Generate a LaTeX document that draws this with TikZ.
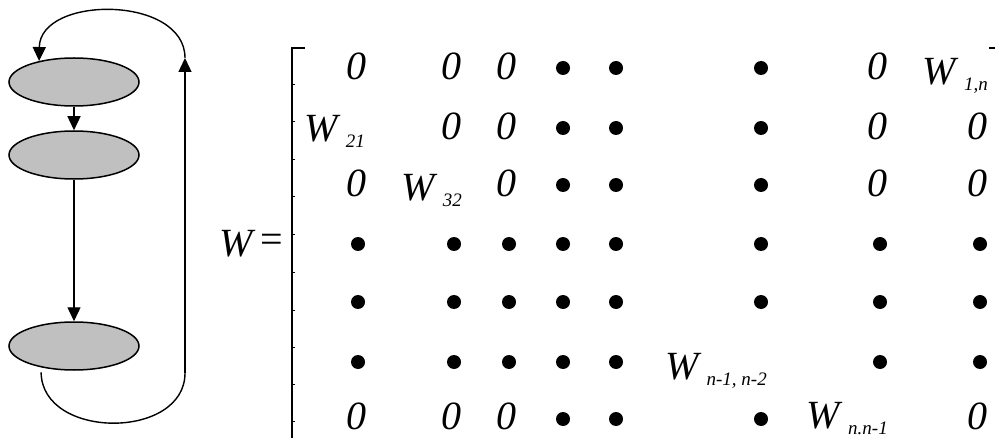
\documentclass[tikz,border=0pt]{standalone}
\usepackage{fontspec}
\setmainfont{Liberation Serif}
\usetikzlibrary{arrows.meta,shapes.geometric}
\newcommand{\mainsz}{\fontsize{40}{40}\selectfont}
\newcommand{\subsz}{\fontsize{19}{19}\selectfont}
\newcommand{\Wsb}[1]{{\mainsz\itshape W}\hspace{8pt}\raisebox{-6pt}{\subsz\itshape #1}}
\begin{document}
\begin{tikzpicture}[x=1pt,y=-1pt,
  ell/.style={ellipse,draw,line width=1.5pt,fill={rgb,255:red,192;green,192;blue,192},minimum width=130pt,minimum height=48pt,inner sep=0pt},
  arr/.style={line width=1.4pt,-{Triangle[length=14pt,width=13pt]}},
  conn/.style={line width=1.4pt},
  ent/.style={anchor=base east,inner sep=0pt,font=\mainsz\itshape},
  dotn/.style={circle,fill=black,inner sep=0pt,minimum size=14pt},
  brk/.style={line width=2pt}]
\fill[white] (0,0) rectangle (995,438);
\useasboundingbox (0,0) rectangle (995,438);
% graph
\node[ell] (e1) at (74,82) {};
\node[ell] (e2) at (74,155) {};
\node[ell] (e3) at (74,346) {};
\draw[arr] (e1.south) -- (e2.north);
\draw[arr] (e2.south) -- (e3.north);
\coordinate (tr) at (185,58);
\coordinate (br) at (185,373);
\draw[arr] (tr) .. controls (185,-5) and (40,-5) .. (e1.149);
\draw[arr] (br) -- (tr);
\draw[conn, shorten <=5pt] (e3.213) .. controls (42,440) and (185,440) .. (br);
% W =
\node[ent,anchor=base west] (lw) at (219,257) {W};
\node[inner sep=0pt,font=\mainsz] (eq) at (272,243) {=};
% brackets
\draw[brk] (305,48) -- (292,48) -- (292,438);
\foreach \yy in {85,122,160,197,235,272,310,347,384,421}
  \draw[line width=1pt] (292,\yy) -- (294.5,\yy);
\draw[brk] (989,48) -- (995,48);
% row 1
\node[ent] (m11) at (367,80) {0};
\node[ent] (m12) at (462,80) {0};
\node[ent] (m13) at (517,80) {0};
\node[dotn] (m14) at (563,68) {};
\node[dotn] (m15) at (616,68) {};
\node[dotn] (m16) at (761,68) {};
\node[ent] (m17) at (888,80) {0};
\node[ent] (m18) at (988,85) {\Wsb{1,n}};
% row 2
\node[ent] (m21) at (365,142) {\Wsb{21}};
\node[ent] (m22) at (462,140) {0};
\node[ent] (m23) at (517,140) {0};
\node[dotn] (m24) at (563,128) {};
\node[dotn] (m25) at (616,128) {};
\node[dotn] (m26) at (761,128) {};
\node[ent] (m27) at (888,140) {0};
\node[ent] (m28) at (988,140) {0};
% row 3
\node[ent] (m31) at (367,197) {0};
\node[ent] (m32) at (462,201) {\Wsb{32}};
\node[ent] (m33) at (517,197) {0};
\node[dotn] (m34) at (563,185) {};
\node[dotn] (m35) at (616,185) {};
\node[dotn] (m36) at (761,185) {};
\node[ent] (m37) at (888,197) {0};
\node[ent] (m38) at (988,197) {0};
% rows 4 and 5
\foreach \r/\yy in {4/244,5/302}{
  \foreach \c/\xx in {1/358,2/454,3/509,4/563,5/616,6/761,7/880,8/980}
    \node[dotn] (m\r\c) at (\xx,\yy) {};
}
% row 6
\foreach \c/\xx in {1/358,2/454,3/509,4/563,5/616,7/880,8/980}
  \node[dotn] (m6\c) at (\xx,362) {};
\node[ent] (m66) at (767,379) {\Wsb{n-1, n-2}};
% row 7
\node[ent] (m71) at (367,429) {0};
\node[ent] (m72) at (462,429) {0};
\node[ent] (m73) at (517,429) {0};
\node[dotn] (m74) at (563,419) {};
\node[dotn] (m75) at (616,419) {};
\node[dotn] (m76) at (761,419) {};
\node[ent] (m77) at (888,428) {\Wsb{n.n-1}};
\node[ent] (m78) at (988,429) {0};
\end{tikzpicture}
\end{document}
